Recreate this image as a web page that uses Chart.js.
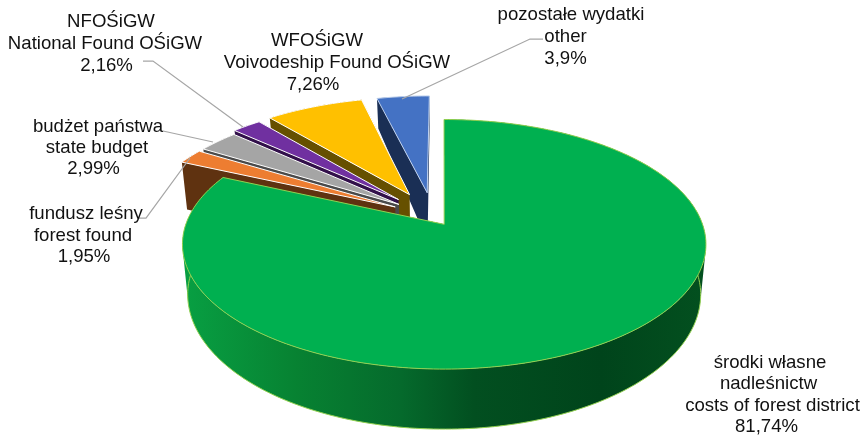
<!DOCTYPE html>
<html>
<head>
<meta charset="utf-8">
<style>
  html, body { margin: 0; padding: 0; background: #fff; }
  #box { width: 865px; height: 437px; }
</style>
<script src="https://cdn.jsdelivr.net/npm/chart.js@4"></script>
</head>
<body>
<div id="box"><canvas id="chart" width="865" height="437"></canvas></div>
<script>
// values
const categories = ["środki własne nadleśnictw", "fundusz leśny", "budżet państwa", "NFOŚiGW", "WFOŚiGW", "pozostałe wydatki"];
const shares = [81.74, 1.95, 2.99, 2.16, 7.26, 3.9];
const labelLines = [
  ["środki własne", "nadleśnictw", "costs of forest district", "81,74%"],
  ["fundusz leśny", "forest found", "1,95%"],
  ["budżet państwa", "state budget", "2,99%"],
  ["NFOŚiGW", "National Found OŚiGW", "2,16%"],
  ["WFOŚiGW", "Voivodeship Found OŚiGW", "7,26%"],
  ["pozostałe wydatki", "other", "3,9%"]
];
const labelX = [
  [770, 768.5, 772.5, 766.5],
  [86, 83, 84],
  [98, 97, 93.5],
  [111, 105, 106.5],
  [317, 337, 313],
  [571, 565.5, 565.5]
];
const labelY = [
  [363, 384, 406, 427],
  [214, 236, 257],
  [127, 148, 169],
  [22, 44, 66],
  [41, 63, 85],
  [15, 37, 59]
];
const leaders = [
  null,
  [[138, 218], [146, 218], [190, 158]],
  [[163, 131], [213, 142]],
  [[143, 61], [153, 61], [243, 127]],
  null,
  [[543, 39], [530, 39], [402, 99]]
];

// styles
const topColors = ["#00b050", "#ed7d31", "#a5a5a5", "#7030a0", "#ffc000", "#4472c4"];
const sideColors = ["#00b050", "#5f3210", "#4a4a4a", "#32104a", "#665000", "#1a2f55"];
const edgeColors = ["#92d050", "#fff", "#fff", "#fff", "#fff", "#bdd0ee"];
const explode = [0.08, 0.17, 0.17, 0.2, 0.21, 0.205];

// tilted disc: plane units are pie radii, the first slice apex sits at the origin of the view
const view = { x: 443.3, y: 225, rx: 258.6, ry: 121.8, k: 0.16, centerU: -0.04, centerV: -0.0725 };

function project(u, v) {
  const w = 1 / (1 - view.k * v);
  return [view.x + view.rx * u * w, view.y + view.ry * v * w];
}

// how far the bottom of the disc lies below a point of its top
function depthAt(y) {
  const stops = [[100, 30], [164, 48], [245, 50], [368, 60]];
  if (y <= stops[0][0]) return stops[0][1];
  for (let i = 1; i < stops.length; i++) {
    if (y <= stops[i][0]) {
      const a = stops[i - 1], b = stops[i];
      return a[1] + (b[1] - a[1]) * (y - a[0]) / (b[0] - a[0]);
    }
  }
  return 60;
}

function lower(p) {
  return [view.x + (p[0] - view.x) * 0.98, p[1] + depthAt(p[1])];
}

function sliceOutline(arc, index) {
  const a0 = arc.startAngle, a1 = arc.endAngle, mid = (a0 + a1) / 2;
  const au = view.centerU + explode[index] * Math.cos(mid);
  const av = view.centerV + explode[index] * Math.sin(mid);
  const steps = Math.max(4, Math.ceil((a1 - a0) * 50));
  const rim = [];
  for (let i = 0; i <= steps; i++) {
    const a = a0 + (a1 - a0) * i / steps;
    rim.push(project(au + Math.cos(a), av + Math.sin(a)));
  }
  return { apex: project(au, av), rim };
}

function tracePoly(ctx, pts, close) {
  ctx.beginPath();
  pts.forEach((p, i) => i ? ctx.lineTo(p[0], p[1]) : ctx.moveTo(p[0], p[1]));
  if (close) ctx.closePath();
}

// all side quads go in one path with the same winding, so they fill as a union without seams
function fillSide(ctx, outline, style) {
  const ring = [outline.apex, ...outline.rim, outline.apex];
  ctx.beginPath();
  for (let i = 0; i < ring.length - 1; i++) {
    const a = ring[i], b = ring[i + 1], c = lower(b), d = lower(a);
    const area = (b[0] - a[0]) * (c[1] - a[1]) - (b[1] - a[1]) * (c[0] - a[0]);
    const quad = area >= 0 ? [a, b, c, d] : [d, c, b, a];
    quad.forEach((p, n) => n ? ctx.lineTo(p[0], p[1]) : ctx.moveTo(p[0], p[1]));
    ctx.closePath();
  }
  ctx.fillStyle = style;
  ctx.fill("nonzero");
}

const tiltedPie = {
  id: "tiltedPie",
  beforeDatasetDraw(chart) {
    const ctx = chart.ctx;
    const arcs = chart.getDatasetMeta(0).data;
    const drawOrder = [5, 4, 3, 2, 1, 0];
    ctx.save();
    ctx.lineJoin = "round";
    drawOrder.forEach(i => {
      const outline = sliceOutline(arcs[i].getProps(["startAngle", "endAngle"], true), i);
      let side = sideColors[i];
      if (i === 0) {
        side = ctx.createLinearGradient(181, 0, 705, 0);
        side.addColorStop(0, "#08a043");
        side.addColorStop(0.22, "#078232");
        side.addColorStop(0.42, "#056a2c");
        side.addColorStop(0.56, "#024f20");
        side.addColorStop(0.8, "#00441b");
        side.addColorStop(1, "#03501f");
      }
      fillSide(ctx, outline, side);
      if (i === 0) {
        tracePoly(ctx, outline.rim.map(lower), false);
        ctx.strokeStyle = edgeColors[0];
        ctx.lineWidth = 1;
        ctx.stroke();
      }
      tracePoly(ctx, [outline.apex, ...outline.rim], true);
      ctx.fillStyle = topColors[i];
      ctx.fill();
      ctx.strokeStyle = edgeColors[i];
      ctx.lineWidth = 1;
      ctx.stroke();
    });
    ctx.restore();
    return false;
  },
  afterDraw(chart) {
    const ctx = chart.ctx;
    ctx.save();
    ctx.strokeStyle = "#a6a6a6";
    ctx.lineWidth = 1.25;
    leaders.forEach(line => {
      if (!line) return;
      tracePoly(ctx, line, false);
      ctx.stroke();
    });
    ctx.fillStyle = "#111";
    ctx.font = "18.6px 'Liberation Sans'";
    ctx.textAlign = "center";
    ctx.textBaseline = "middle";
    labelLines.forEach((lines, i) => {
      lines.forEach((t, n) => ctx.fillText(t, labelX[i][n], labelY[i][n]));
    });
    ctx.restore();
  }
};

new Chart(document.getElementById("chart"), {
  type: "pie",
  data: {
    labels: categories,
    datasets: [{ data: shares, backgroundColor: topColors }]
  },
  options: {
    responsive: false,
    animation: false,
    layout: { padding: 0 },
    plugins: { legend: { display: false }, tooltip: { enabled: false } }
  },
  plugins: [tiltedPie]
});
</script>
</body>
</html>
